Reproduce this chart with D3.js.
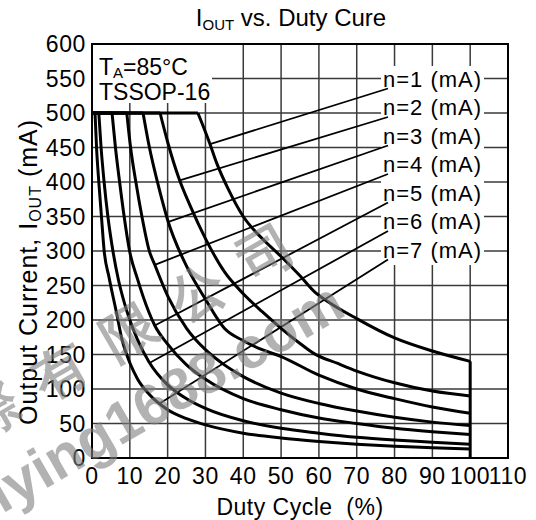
<!DOCTYPE html>
<html><head><meta charset="utf-8">
<script src="https://cdn.jsdelivr.net/npm/d3@7/dist/d3.min.js"></script>
<style>body{margin:0;background:#fff}svg{display:block}text{font-family:"Liberation Sans",Arial,Helvetica,sans-serif;white-space:pre}</style>
</head><body>
<script>
// ---- data ----
const xTicks = [0,10,20,30,40,50,60,70,80,90,100,110];
const yTicks = [0,50,100,150,200,250,300,350,400,450,500,550,600];
const seriesNames = ["n=1 (mA)","n=2 (mA)","n=3 (mA)","n=4 (mA)","n=5 (mA)","n=6 (mA)","n=7 (mA)"];
const curveN1 = [[0,500],[28,500],[31,458],[33,427],[36,390],[40,350],[45,318],[50,292],[55,264],[59,240],[62,228],[70,202],[80,174],[90,155],[100,140]];
const curveN2 = [[0,500],[18,500],[20,458],[23,405],[26,365],[30,318],[35,270],[40,238],[45,212],[50,188],[55,166],[58.5,152],[65,137],[70,126],[80,109],[90,97],[100,90]];
const curveN3 = [[0,500],[13.5,500],[15,455],[18,385],[20,345],[25,278],[30,230],[35,188],[40,170],[45,157],[50,147],[60,120],[70,100],[80,86],[90,74],[100,65]];
const curveN4 = [[0,500],[9.2,500],[10.2,450],[11.6,400],[13.2,350],[15.1,301],[16.6,280],[20,235],[25,188],[30,157],[35,135],[40,118],[50,94],[60,79],[70,68],[80,59],[90,52],[100,47]];
const curveN5 = [[0,500],[5.3,500],[6.2,450],[7.3,400],[8.5,350],[9.9,301],[12,260],[15,212],[16.6,192],[20,165],[25,135],[30,114],[40,86],[50,70],[60,58],[70,50],[80,43],[90,38],[100,34]];
const curveN6 = [[0,500],[1.8,500],[2.4,450],[3.2,400],[4.2,350],[5.5,301],[7,258],[8.5,226],[10,200],[12,172],[15,140],[20,106],[25,86],[30,72],[40,54],[50,43],[60,36],[70,30],[80,26],[90,23],[100,20]];
const curveN7 = [[0,500],[0.8,500],[1.2,450],[1.8,400],[2.5,350],[3.2,301],[4.5,262],[6.5,210],[8,170],[10,138],[12,115],[15,93],[20,70],[25,57],[30,48],[40,36],[50,29],[60,24],[70,20],[80,17],[90,15],[100,13]];
const leaderDuty = [31.2,23.2,20.2,16.6,16.6,15.3,18];
const curves = [curveN1,curveN2,curveN3,curveN4,curveN5,curveN6,curveN7];

// ---- layout ----
const W=536,H=520;
const svg=d3.select("body").append("svg").attr("width",W).attr("height",H);
const x=d3.scaleLinear().domain([0,110]).range([92,508]);
const y=d3.scaleLinear().domain([0,600]).range([458,44]);

// grid
const g=svg.append("g");
g.selectAll("line.vg").data(xTicks.slice(1,-1)).join("line")
 .attr("x1",d=>x(d)).attr("x2",d=>x(d)).attr("y1",y(0)).attr("y2",y(600))
 .attr("stroke","#3a3a3a").attr("stroke-width",1.5);
g.selectAll("line.hg").data(yTicks.slice(1,-1)).join("line")
 .attr("y1",d=>y(d)).attr("y2",d=>y(d)).attr("x1",x(0)).attr("x2",x(110))
 .attr("stroke","#3a3a3a").attr("stroke-width",1.5);

// white boxes behind annotations
svg.append("rect").attr("x",93).attr("y",45).attr("width",119).attr("height",58).attr("fill","#fff");
svg.append("rect").attr("x",381).attr("y",66).attr("width",103).attr("height",199).attr("fill","#fff");

// frame
svg.append("rect").attr("x",x(0)).attr("y",y(600)).attr("width",x(110)-x(0)).attr("height",y(0)-y(600))
 .attr("fill","none").attr("stroke","#000").attr("stroke-width",2);

// curves
const lineLin=d3.line().x(d=>x(d[0])).y(d=>y(d[1]));
const lineSm=d3.line().x(d=>x(d[0])).y(d=>y(d[1])).curve(d3.curveMonotoneX);
curves.forEach(c=>{
  svg.append("path").attr("d",lineLin(c.slice(0,2))).attr("fill","none").attr("stroke","#000").attr("stroke-width",3);
  svg.append("path").attr("d",lineSm(c.slice(1))).attr("fill","none").attr("stroke","#000").attr("stroke-width",3);
});
svg.append("line").attr("x1",x(100)).attr("x2",x(100)).attr("y1",y(0)).attr("y2",y(curveN1[curveN1.length-1][1]))
 .attr("stroke","#000").attr("stroke-width",3);

// labels + leaders
function valueAt(c,dx){for(let i=1;i<c.length;i++){if(dx<=c[i][0]){const a=c[i-1],b=c[i];const t=(dx-a[0])/(b[0]-a[0]);return a[1]+t*(b[1]-a[1]);}}return c[c.length-1][1];}
seriesNames.forEach((s,i)=>{
  const cy=y(550)+i*28.5;
  svg.append("text").attr("x",383).attr("y",cy+8).attr("font-size",22).attr("letter-spacing",1).text(s);
  svg.append("line").attr("x1",388).attr("y1",cy+10).attr("x2",x(leaderDuty[i])).attr("y2",y(valueAt(curves[i],leaderDuty[i])))
   .attr("stroke","#000").attr("stroke-width",1.8);
});

// ticks
svg.selectAll("text.xt").data(xTicks).join("text").attr("x",d=>x(d)).attr("y",484).attr("text-anchor","middle")
 .attr("font-size",23).attr("letter-spacing",0.6).text(d=>d);
svg.selectAll("text.yt").data(yTicks).join("text").attr("x",86).attr("y",d=>y(d)+8).attr("text-anchor","end")
 .attr("font-size",23).attr("letter-spacing",0.6).text(d=>d);

// titles
const t=svg.append("text").attr("x",291).attr("y",26).attr("text-anchor","middle").attr("font-size",24);
t.append("tspan").text("I");
t.append("tspan").attr("font-size",15).attr("dy",4).text("OUT");
t.append("tspan").attr("dy",-4).text(" vs. Duty Cure");
svg.append("text").attr("x",300).attr("y",515).attr("text-anchor","middle").attr("font-size",23).attr("letter-spacing",0.5).text("Duty Cycle  (%)");
const yt=svg.append("text").attr("transform","translate(37,272) rotate(-90)").attr("text-anchor","middle").attr("font-size",25).attr("letter-spacing",1);
yt.append("tspan").text("Output Current, I");
yt.append("tspan").attr("font-size",16).attr("dy",4).text("OUT");
yt.append("tspan").attr("dy",-4).text(" (mA)");
const ta=svg.append("text").attr("x",99).attr("y",75).attr("font-size",23);
ta.append("tspan").text("T");
ta.append("tspan").attr("font-size",15).attr("dy",3).text("A");
ta.append("tspan").attr("dy",-3).text("=85°C");
svg.append("text").attr("x",99).attr("y",100).attr("font-size",23).text("TSSOP-16");

// watermark
svg.append("text").attr("transform","translate(-22,440) rotate(-30)").attr("font-family","Noto Sans CJK TC").attr("font-size",54).attr("font-weight","bold")
 .attr("letter-spacing",25).attr("fill","#808080").attr("opacity",0.6).text("際有限公司");
svg.append("text").attr("transform","translate(2,514) rotate(-30)").attr("font-size",58).attr("font-weight","bold")
 .attr("fill","#808080").attr("opacity",0.6).text("lying1688.com");
</script>
</body></html>
